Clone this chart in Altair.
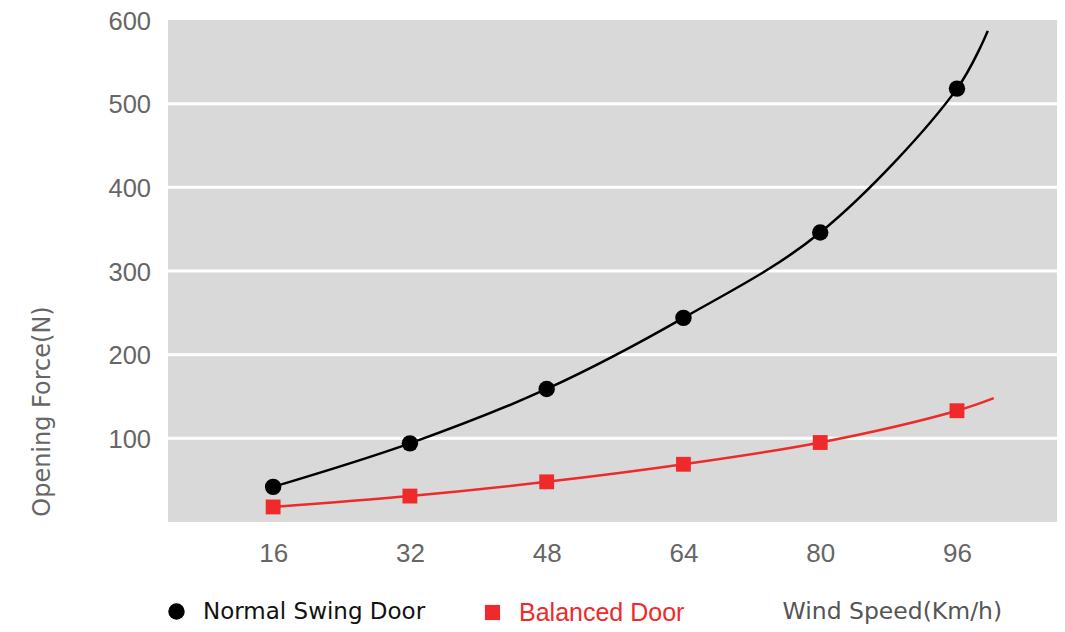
import altair as alt
import pandas as pd

# Data
wind_speed = [16, 32, 48, 64, 80, 96]
normal_force = [42, 94, 159, 244, 346, 518]
balanced_force = [18, 31, 48, 69, 95, 133]
# where the drawn curves end (right of the last marker)
curve_end_x = [99.6, 100.3]
curve_end_y = [587, 148]

series_names = ["Normal Swing Door", "Balanced Door"]
series_colors = ["#000000", "#ee2a2a"]
y_ticks = [100, 200, 300, 400, 500, 600]
grid_values = [100, 200, 300, 400, 500]

normal_df = pd.DataFrame({"speed": wind_speed, "force": normal_force,
                          "series": series_names[0]})
balanced_df = pd.DataFrame({"speed": wind_speed, "force": balanced_force,
                            "series": series_names[1]})
pts = pd.concat([normal_df, balanced_df], ignore_index=True)
ends = pd.DataFrame({"speed": curve_end_x, "force": curve_end_y,
                     "series": series_names})
line_df = pd.concat([pts, ends], ignore_index=True)
grid_df = pd.DataFrame({"g": grid_values})

FONT = "Liberation Sans"
TFONT = "DejaVu Sans"
xscale = alt.Scale(domain=[3.7, 107.7], nice=False, zero=False)
yscale = alt.Scale(domain=[0, 600], nice=False)

x_axis = alt.Axis(
    values=wind_speed, grid=False, ticks=False, tickSize=0, domain=False,
    labelFontSize=26, labelColor="#666666", labelFont=FONT, labelPadding=18,
    title="Wind Speed(Km/h)", titleFont=TFONT, titleFontSize=23.5, titleColor="#555555",
    titleFontWeight="normal", titleAnchor="start", titleAlign="left",
    titleX=614, titleY=96, titleBaseline="alphabetic",
)
y_axis = alt.Axis(
    values=y_ticks, grid=False, ticks=False, tickSize=0, domain=False,
    labelFontSize=25.5, labelColor="#666666", labelFont=FONT, labelAlign="left",
    labelPadding=60, labelOffset=1,
    title="Opening Force(N)", titleFont=TFONT, titleFontSize=24, titleColor="#666666",
    titleFontWeight="normal", titleAngle=270, titleAlign="center",
    titleBaseline="middle", titleX=-126, titleY=391,
)

grid = alt.Chart(grid_df).mark_rule(color="white", strokeWidth=3).encode(
    y=alt.Y("g:Q", scale=yscale, axis=y_axis)
)

lines = alt.Chart(line_df).mark_line(interpolate="catmull-rom", strokeWidth=2.5).encode(
    x=alt.X("speed:Q", scale=xscale, axis=x_axis),
    y=alt.Y("force:Q", scale=yscale),
    stroke=alt.Stroke("series:N", scale=alt.Scale(domain=series_names, range=series_colors),
                      legend=None),
    order="speed:Q",
)

normal_points = alt.Chart(normal_df).mark_point(
    shape="circle", filled=True, size=270, opacity=1
).encode(
    x=alt.X("speed:Q", scale=xscale),
    y=alt.Y("force:Q", scale=yscale),
    color=alt.Color(
        "series:N",
        scale=alt.Scale(domain=[series_names[0]], range=[series_colors[0]]),
        legend=alt.Legend(
            orient="none", legendX=-3, legendY=580, title=None, padding=0,
            symbolType="circle", symbolSize=270, symbolStrokeWidth=0,
            labelFont=TFONT, labelFontSize=23, labelColor="#111111", labelOffset=15,
            labelLimit=600,
        ),
    ),
)

balanced_points = alt.Chart(balanced_df).mark_point(
    shape="square", filled=True, size=220, opacity=1
).encode(
    x=alt.X("speed:Q", scale=xscale),
    y=alt.Y("force:Q", scale=yscale),
    fill=alt.Fill(
        "series:N",
        scale=alt.Scale(domain=[series_names[1]], range=[series_colors[1]]),
        legend=alt.Legend(
            orient="none", legendX=312, legendY=580, title=None, padding=0,
            symbolType="square", symbolSize=230, symbolStrokeWidth=0,
            labelFont=FONT, labelFontSize=25, labelColor=series_colors[1], labelOffset=14,
            labelLimit=600,
        ),
    ),
)

chart = alt.layer(grid, lines, normal_points, balanced_points).properties(
    width=889, height=502,
    autosize=alt.AutoSizeParams(type="none"),
    padding={"left": 160, "top": 12, "right": 0, "bottom": 102},
).configure_view(fill="#d9d9d9", stroke=None)

chart.save("out.html", embed_options={"renderer": "svg", "actions": False})
